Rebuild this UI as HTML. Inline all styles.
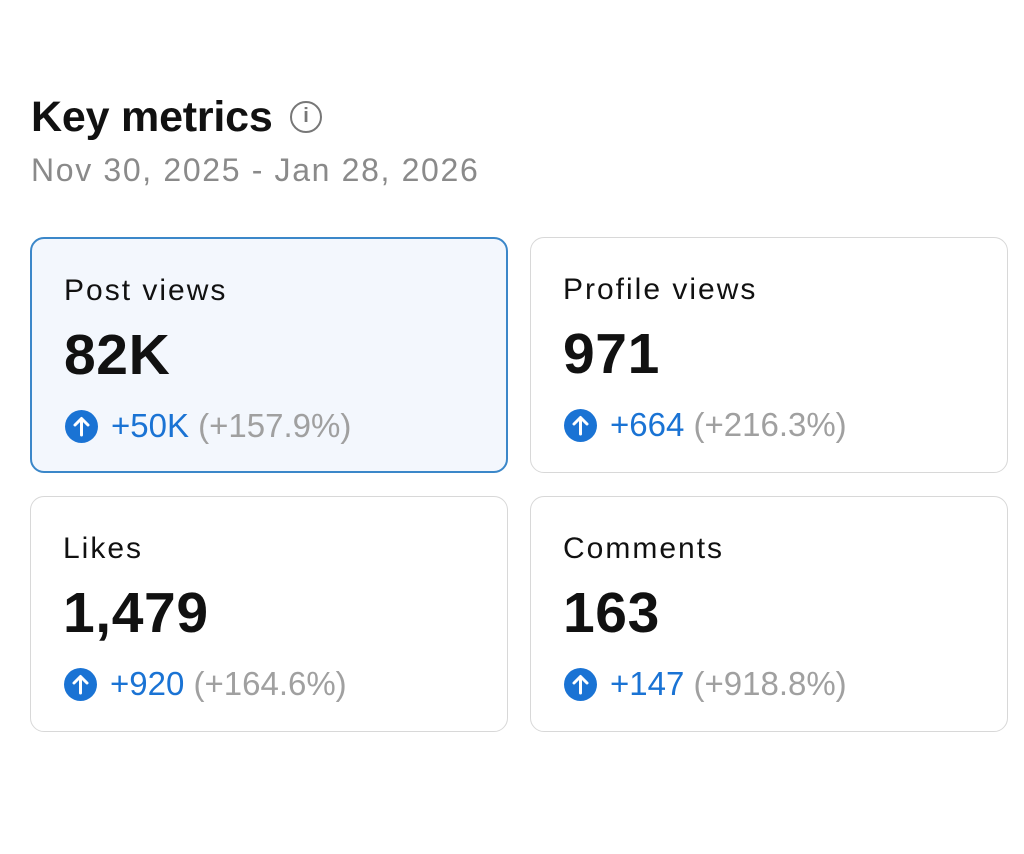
<!DOCTYPE html>
<html><head><meta charset="utf-8"><style>
body{margin:0;width:1024px;height:854px;background:#fff;font-family:"Liberation Sans",sans-serif;position:relative;overflow:hidden}
.t{position:absolute;left:31px;top:93px;font-size:43px;font-weight:bold;color:#111;letter-spacing:-0.2px}
.info{position:absolute;left:290px;top:101px;width:32px;height:32px;border:2.5px solid #777;border-radius:50%;box-sizing:border-box;color:#777;font-size:20px;font-weight:bold;text-align:center;line-height:27px}
.d{position:absolute;left:31px;top:152px;font-size:32px;color:#8a8a8a;letter-spacing:1.65px}
.c{position:absolute;width:478px;height:236px;border:1.5px solid #d8d8d8;border-radius:14px;box-sizing:border-box}
.c.a{background:#f3f7fd;border:2px solid #3b87c9}
.l{position:absolute;left:32px;top:35px;font-size:30px;color:#111;letter-spacing:2px}
.v{position:absolute;left:32px;top:83px;font-size:57px;font-weight:bold;color:#111;letter-spacing:0.6px}
.ic{position:absolute;left:33px;top:171px;width:33px;height:33px;border-radius:50%;background:#1a73d4}
.ch{position:absolute;left:79px;top:168px;font-size:33px;color:#1a73d4;white-space:nowrap}
.ch span{color:#a0a0a0}
</style></head><body>
<div class="t">Key metrics</div>
<div class="info">i</div>
<div class="d">Nov 30, 2025 - Jan 28, 2026</div>

<div class="c a" style="left:30px;top:237px"><div class="l">Post views</div><div class="v">82K</div><div class="ic"><svg width="33" height="33" viewBox="0 0 33 33"><path d="M16.5 25V9M10 15l6.5-6.5L23 15" stroke="#fff" stroke-width="3" fill="none" stroke-linecap="round" stroke-linejoin="round"/></svg></div><div class="ch">+50K <span>(+157.9%)</span></div></div>

<div class="c" style="left:530px;top:237px"><div class="l">Profile views</div><div class="v">971</div><div class="ic"><svg width="33" height="33" viewBox="0 0 33 33"><path d="M16.5 25V9M10 15l6.5-6.5L23 15" stroke="#fff" stroke-width="3" fill="none" stroke-linecap="round" stroke-linejoin="round"/></svg></div><div class="ch">+664 <span>(+216.3%)</span></div></div>

<div class="c" style="left:30px;top:496px"><div class="l">Likes</div><div class="v">1,479</div><div class="ic"><svg width="33" height="33" viewBox="0 0 33 33"><path d="M16.5 25V9M10 15l6.5-6.5L23 15" stroke="#fff" stroke-width="3" fill="none" stroke-linecap="round" stroke-linejoin="round"/></svg></div><div class="ch">+920 <span>(+164.6%)</span></div></div>

<div class="c" style="left:530px;top:496px"><div class="l">Comments</div><div class="v">163</div><div class="ic"><svg width="33" height="33" viewBox="0 0 33 33"><path d="M16.5 25V9M10 15l6.5-6.5L23 15" stroke="#fff" stroke-width="3" fill="none" stroke-linecap="round" stroke-linejoin="round"/></svg></div><div class="ch">+147 <span>(+918.8%)</span></div></div>
</body></html>
